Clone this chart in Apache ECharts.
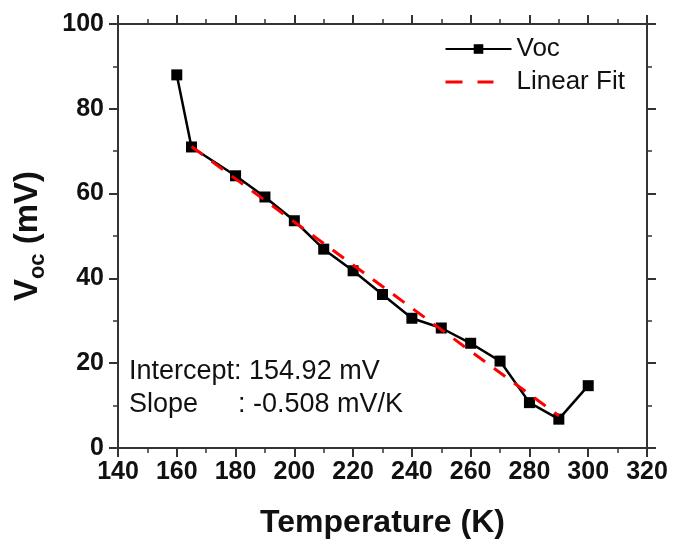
<!DOCTYPE html>
<html><head><meta charset="utf-8">
<script src="https://cdn.jsdelivr.net/npm/echarts@6/dist/echarts.min.js"></script>
<style>html,body{margin:0;padding:0;background:#fff}#c{width:673px;height:544px}</style>
</head><body><div id="c"></div>
<script>
const temperatures = [160, 165, 180, 190, 200, 210, 220, 230, 240, 250, 260, 270, 280, 290, 300];
const vocValues = [88, 71, 64.2, 59.2, 53.6, 46.9, 41.8, 36.2, 30.6, 28.3, 24.7, 20.5, 10.7, 6.8, 14.7];
const fitTemperatures = [165, 290];
const fitValues = [71.1, 7.6];
const seriesNames = ['Voc', 'Linear Fit'];
const annotationLines = ['Intercept: 154.92 mV', 'Slope', ': -0.508 mV/K'];

const FONT = 'Liberation Sans, Arial, sans-serif';
const AX = '#333';
const chart = echarts.init(document.getElementById('c'), null, {renderer: 'canvas'});

function axisBase(extra) {
  return Object.assign({
    type: 'value',
    axisLine: {show: true, onZero: false, lineStyle: {color: AX, width: 2}},
    axisTick: {show: true, inside: false, length: 9, lineStyle: {color: AX, width: 2}},
    minorTick: {show: true, splitNumber: 2, length: 5, lineStyle: {color: AX, width: 1.5}},
    splitLine: {show: false},
    minorSplitLine: {show: false}
  }, extra);
}

const option = {
  backgroundColor: '#fff',
  animation: false,
  grid: {left: 118, right: 26, top: 24, bottom: 96, containLabel: false},
  xAxis: [
    axisBase({
      min: 140, max: 320, interval: 20, position: 'bottom',
      axisLabel: {fontSize: 25, fontWeight: 'bold', color: '#111', margin: 12, fontFamily: FONT},
      name: 'Temperature (K)', nameLocation: 'middle', nameGap: 59,
      nameTextStyle: {fontSize: 32, fontWeight: 'bold', color: '#111', fontFamily: FONT}
    }),
    axisBase({
      min: 140, max: 320, interval: 20, position: 'top',
      axisLabel: {show: false}
    })
  ],
  yAxis: [
    axisBase({
      min: 0, max: 100, interval: 20, position: 'left',
      axisLabel: {fontSize: 25, fontWeight: 'bold', color: '#111', margin: 14, fontFamily: FONT},
      name: '{v|V}{s|oc}{v| (mV)}', nameLocation: 'middle', nameGap: 74, nameRotate: 90,
      nameTextStyle: {
        color: '#111', fontFamily: FONT,
        rich: {
          v: {fontSize: 33, fontWeight: 'bold', color: '#111', fontFamily: FONT, lineHeight: 40, verticalAlign: 'bottom'},
          s: {fontSize: 22, fontWeight: 'bold', color: '#111', fontFamily: FONT, lineHeight: 40, verticalAlign: 'bottom', padding: [0, 0, -5, 0]}
        }
      }
    }),
    axisBase({
      min: 0, max: 100, interval: 20, position: 'right',
      axisLabel: {show: false}
    })
  ],
  legend: {
    orient: 'vertical', left: 439, top: 31,
    itemWidth: 66, itemHeight: 12, itemGap: 7,
    data: [
      {name: seriesNames[0]},
      {name: seriesNames[1], itemStyle: {opacity: 0}, lineStyle: {type: [17, 15, 16, 30], width: 3, color: '#ff0000'}}
    ],
    textStyle: {fontSize: 26, color: '#111', fontFamily: FONT}
  },
  series: [
    {
      name: seriesNames[0], type: 'line',
      data: temperatures.map((t, i) => [t, vocValues[i]]),
      symbol: 'rect', symbolSize: 11,
      itemStyle: {color: '#000'},
      lineStyle: {color: '#000', width: 2.5},
      z: 2
    },
    {
      name: seriesNames[1], type: 'line',
      data: fitTemperatures.map((t, i) => [t, fitValues[i]]),
      symbol: 'none',
      itemStyle: {color: '#ff0000'},
      lineStyle: {color: '#ff0000', width: 3, type: [14, 11]},
      z: 3
    }
  ],
  graphic: [
    {type: 'text', left: 129, top: 358, style: {text: annotationLines[0], fontSize: 27, fill: '#111', fontFamily: FONT}},
    {type: 'text', left: 129, top: 391, style: {text: annotationLines[1], fontSize: 27, fill: '#111', fontFamily: FONT}},
    {type: 'text', left: 238, top: 391, style: {text: annotationLines[2], fontSize: 27, fill: '#111', fontFamily: FONT}}
  ]
};
chart.setOption(option);
</script>
</body></html>
